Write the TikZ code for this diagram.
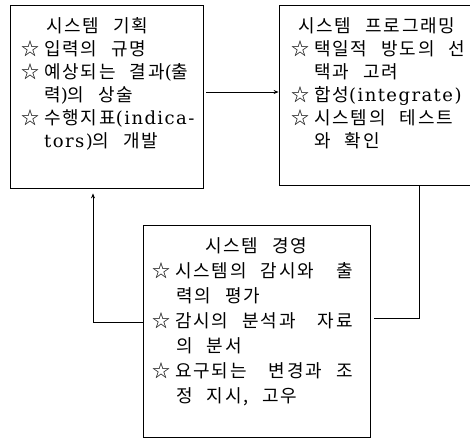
\documentclass[tikz,border=0pt]{standalone}
\usepackage{fontspec}
\newfontfamily\kr[LetterSpace=10,WordSpace=2.4]{Noto Sans CJK KR}
\newfontfamily\latfont[LetterSpace=8]{DejaVu Serif}
\newcommand{\lx}[1]{{\latfont #1}}
\newcommand{\st}{☆\hspace{5pt}}
\usetikzlibrary{arrows.meta}
\tikzset{
  box/.style={draw=black, line width=0.8pt, inner sep=0pt, fill=none},
  ln/.style={anchor=base west, inner sep=0pt, font=\kr\fontsize{18}{18}\selectfont},
  conn/.style={draw=black, line width=0.8pt},
  arr/.style={conn, -{Stealth[length=5pt,width=4pt]}}
}
\begin{document}
\begin{tikzpicture}[x=1pt,y=-1pt]
\useasboundingbox (0,0) rectangle (470,440);
% boxes
\node[box, minimum width=193pt, minimum height=183pt] (b1) at (106.5,96.5) {};
\node[box, minimum width=192pt, minimum height=180pt] (b2) at (375,95) {};
\node[box, minimum width=227pt, minimum height=212pt] (b3) at (256.5,331) {};
% box 1 text
\node[ln] (t11) at (46,32) {시스템 기획};
\node[ln] (t12) at (21,55) {\st 입력의 규명};
\node[ln] (t13) at (21,78) {\st 예상되는 결과\lx{(}출};
\node[ln] (t14) at (44,101) {력\lx{)}의 상술};
\node[ln] (t15) at (21,124) {\st 수행지표\lx{(indica-}};
\node[ln] (t16) at (44,147) {\lx{tors)}의 개발};
% box 2 text
\node[ln] (t21) at (298,32) {시스템 프로그래밍};
\node[ln] (t22) at (291,55) {\st 택일적 방도의 선};
\node[ln] (t23) at (314,78) {택과 고려};
\node[ln] (t24) at (291,101) {\st 합성\lx{(integrate)}};
\node[ln] (t25) at (291,124) {\st 시스템의 테스트};
\node[ln] (t26) at (314,147) {와 확인};
% box 3 text
\node[ln] (t31) at (205,252) {시스템 경영};
\node[ln] (t32) at (152,277) {\st 시스템의 감시와\hspace{8pt} 출};
\node[ln] (t33) at (176,302) {력의 평가};
\node[ln] (t34) at (152,327) {\st 감시의 분석과\hspace{8pt} 자료};
\node[ln] (t35) at (176,352) {의 분서};
\node[ln] (t36) at (152,377) {\st 요구되는\hspace{8pt} 변경과 조};
\node[ln] (t37) at (176,402) {정 지시, 고우};
% connectors
\coordinate (m) at (0,92);
\coordinate (cl) at (93,322);
\coordinate (cr) at (419,318);
\draw[arr, shorten <=3pt] (b1.east |- m) -- (b2.west |- m);
\draw[arr, shorten >=5pt] (b3.west |- cl) -- (cl) -- (b1.south -| cl);
\draw[conn, shorten >=4pt] (b2.south -| cr) -- (cr) -- (b3.east |- cr);
\end{tikzpicture}
\end{document}
